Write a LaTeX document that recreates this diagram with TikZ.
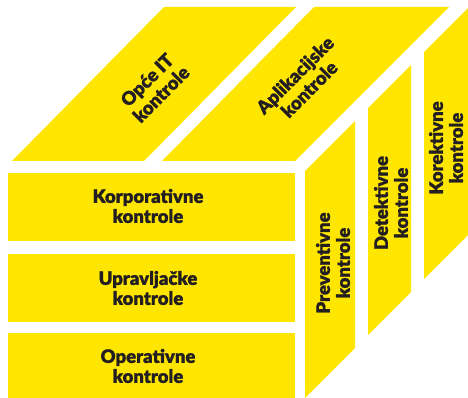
\documentclass[tikz,border=0pt]{standalone}
\usepackage{fontspec}
\setmainfont{Lato}[BoldFont={Lato Black},BoldFeatures={FakeBold=1.2}]
\definecolor{ylw}{HTML}{FFE600}
\definecolor{ink}{HTML}{231F20}
\begin{document}
\begin{tikzpicture}[x=1pt,y=-1pt,
  panel/.style={fill=ylw,draw=none},
  lbl/.style={text=ink,align=center,font=\fontsize{18.5}{20}\selectfont\bfseries,inner sep=0pt}]
\useasboundingbox (0,0) rectangle (468,398);
\clip (0,0) rectangle (468,398);
% top face
\fill[panel] (12,161) -- (164,7) -- (296,7) -- (144,161) -- cycle;
\fill[panel] (162,161) -- (314,7) -- (449,7) -- (295,161) -- cycle;
% right face
\fill[panel] (305,171) -- (355,121) -- (355,348) -- (305,398) -- cycle;
\fill[panel] (368,108) -- (411,65) -- (411,292) -- (368,335) -- cycle;
\fill[panel] (424,52) -- (480,-4) -- (480,223) -- (424,279) -- cycle;
% front face
\fill[panel] (8,173) rectangle (295,241);
\fill[panel] (8,254) rectangle (295,322);
\fill[panel] (8,333) rectangle (295,400);
% labels
\node[lbl] (korp) at (148,206) {Korporativne\\kontrole};
\node[lbl] (uprav) at (148,288) {Upravljačke\\kontrole};
\node[lbl] (oper) at (148,366) {Operativne\\kontrole};
\node[lbl,rotate=45] (opce) at (154,87) {Opće IT\\kontrole};
\node[lbl,rotate=45] (aplik) at (302,82) {Aplikacijske\\kontrole};
\node[lbl,rotate=90] (prev) at (333,263) {Preventivne\\kontrole};
\node[lbl,rotate=90] (detek) at (391,203) {Detektivne\\kontrole};
\node[lbl,rotate=90] (korek) at (446,148) {Korektivne\\kontrole};
\end{tikzpicture}
\end{document}
